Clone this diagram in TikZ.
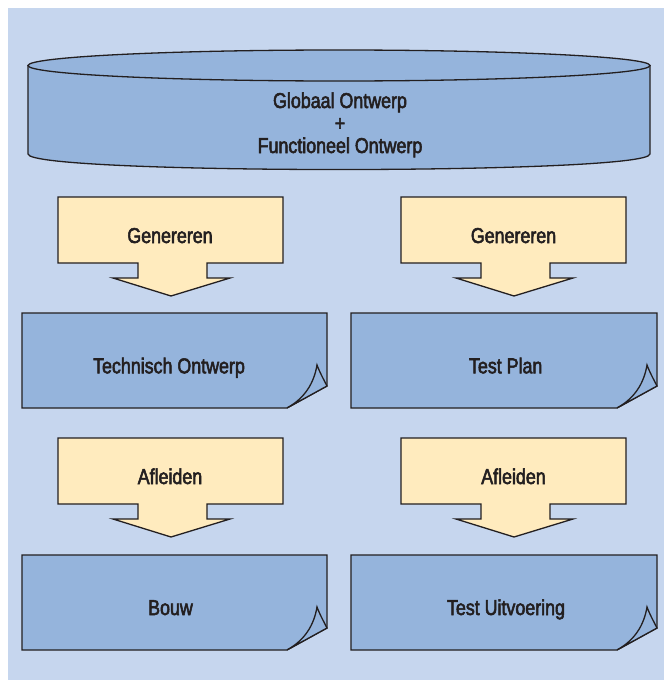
\documentclass[tikz,border=0pt]{standalone}
\usepackage{fontspec}
\setmainfont{Liberation Sans}[FakeStretch=0.83, FakeBold=2.5]
\definecolor{panelbg}{RGB}{198,214,238}
\definecolor{blueshape}{RGB}{149,180,220}
\definecolor{yellowbox}{RGB}{255,235,190}
\definecolor{inkline}{RGB}{35,31,32}
\tikzset{
  outline/.style={draw=inkline, line width=1.3pt, line join=miter},
  arrowbox/.style={outline, fill=yellowbox},
  docbox/.style={outline, fill=blueshape},
  cylbox/.style={outline, fill=blueshape},
  lbl/.style={anchor=base, inner sep=0pt, text=inkline, font=\fontsize{21.5}{25}\selectfont}
}
\newcommand{\flowarrow}[2]{%
  \draw[arrowbox] ({#1-113},#2) -- ({#1+112},#2) -- ({#1+112},{#2+66}) -- ({#1+36},{#2+66}) -- ({#1+36},{#2+81}) -- ({#1+59},{#2+81}) -- (#1,{#2+99}) -- ({#1-58},{#2+81}) -- ({#1-33},{#2+81}) -- ({#1-33},{#2+66}) -- ({#1-113},{#2+66}) -- cycle;}
\newcommand{\docshape}[4]{%
  \draw[docbox] (#1,#2) -- (#3,#2) -- (#3,{#4-22}) -- ({#3-40},#4) -- (#1,#4) -- cycle;
  \draw[docbox] ({#3-40},#4) .. controls ({#3-22},{#4-10}) and ({#3-13},{#4-25}) .. ({#3-10},{#4-43}) .. controls ({#3-7},{#4-35}) and ({#3-3},{#4-28}) .. (#3,{#4-22}) -- cycle;}
\begin{document}
\begin{tikzpicture}[x=1pt, y=-1pt]
\useasboundingbox (0,0) rectangle (664,680);
\fill[white] (0,0) rectangle (664,680);
\fill[panelbg] (8,8) rectangle (664,680);
% cylinder
\draw[cylbox] (28,65.5) -- (28,154) .. controls (28,174.7) and (650,174.7) .. (650,154) -- (650,65.5) -- cycle;
\draw[cylbox] (339,65.5) ellipse[x radius=311, y radius=15.5];
\node[lbl] (glob) at (340,108) {Globaal Ontwerp};
\node[lbl] (plus) at (340,130.5) {+};
\node[lbl] (func) at (340,153) {Functioneel Ontwerp};
% arrows
\flowarrow{171}{197}
\flowarrow{514}{197}
\flowarrow{171}{438}
\flowarrow{514}{438}
\node[lbl] (gen1) at (170,243) {Genereren};
\node[lbl] (gen2) at (513.5,243) {Genereren};
\node[lbl] (afl1) at (170,484) {Afleiden};
\node[lbl] (afl2) at (513.5,484) {Afleiden};
% documents
\docshape{22}{313}{327}{408}
\docshape{351}{313}{657}{408}
\docshape{22}{555}{327}{650}
\docshape{351}{555}{657}{650}
\node[lbl] (tech) at (169,373.3) {Technisch Ontwerp};
\node[lbl] (tplan) at (505.7,373.3) {Test Plan};
\node[lbl] (bouw) at (170.5,615) {Bouw};
\node[lbl] (tuit) at (506,615) {Test Uitvoering};
\end{tikzpicture}
\end{document}
